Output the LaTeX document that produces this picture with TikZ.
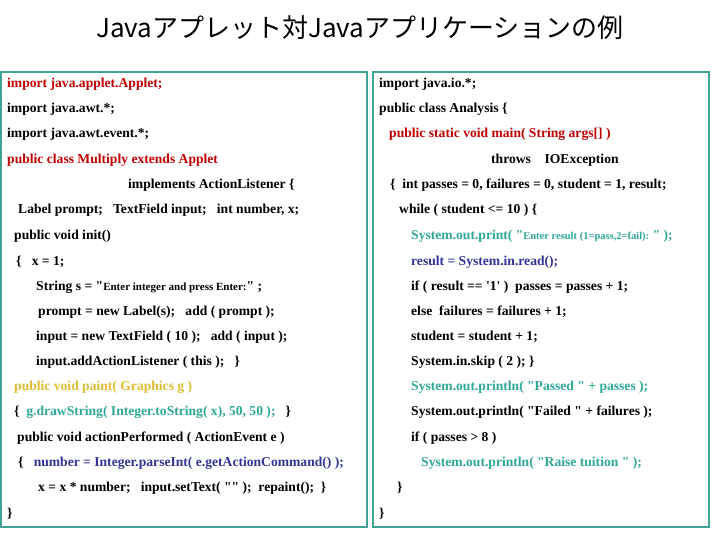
\documentclass[tikz,border=0pt]{standalone}
\usepackage{fontspec}
\setmainfont{Liberation Serif}[Ligatures=TeXOff]
\newfontfamily\cjk{Noto Sans CJK JP}
\definecolor{cred}{HTML}{C00000}
\definecolor{cteal}{HTML}{2EA898}
\definecolor{cyel}{HTML}{E0BC30}
\definecolor{cblue}{HTML}{333399}
\definecolor{cbord}{HTML}{3FA496}
\begin{document}
\begin{tikzpicture}[x=1pt,y=-1pt,
  code/.style={anchor=base west,inner sep=0pt,font=\fontsize{13.6}{15}\selectfont\bfseries},
  box/.style={draw=cbord,line width=1.2pt}]
\useasboundingbox (0,0) rectangle (720,540);
\node[font=\cjk\fontsize{26}{28}\selectfont,inner sep=0pt] (title) at (360,28) {Javaアプレット対Javaアプリケーションの例};
\draw[box] (1,72) rectangle (367,527);
\draw[box] (373,72) rectangle (709,527);
% left
\node[code,text=cred] (a1) at (7,88) {import java.applet.Applet;};
\node[code] (a2) at (7,113) {import java.awt.*;};
\node[code] (a3) at (7,138) {import java.awt.event.*;};
\node[code,text=cred] (a4) at (7,164) {public class Multiply extends Applet};
\node[code] (a5) at (128,189) {implements ActionListener \{};
\node[code] (a6) at (18,214) {Label prompt;\ \ \ TextField input;\ \ \ int number, x;};
\node[code] (a7) at (14,240) {public void init()};
\node[code] (a8) at (16,265) {\{\ \ \ x = 1;};
\node[code] (a9) at (36,290) {String s = "{\fontsize{11}{12}\selectfont Enter integer and press Enter:}" ;};
\node[code] (a10) at (38,315) {prompt = new Label(s);\ \ \ add ( prompt );};
\node[code] (a11) at (36,340) {input = new TextField ( 10 );\ \ \ add ( input );};
\node[code] (a12) at (36,365) {input.addActionListener ( this );\ \ \ \}};
\node[code,text=cyel] (a13) at (14,390) {public void paint( Graphics g )};
\node[code] (a14) at (14,415) {\{\ \ \textcolor{cteal}{g.drawString( Integer.toString( x), 50, 50 );}\ \ \ \}};
\node[code] (a15) at (17,441) {public void actionPerformed ( ActionEvent e )};
\node[code] (a16) at (18,466) {\{\ \ \ \textcolor{cblue}{number = Integer.parseInt( e.getActionCommand() );}};
\node[code] (a17) at (38,491) {x = x * number;\ \ \ input.setText( "" );\ \ repaint();\ \ \}};
\node[code] (a18) at (7,517) {\}};
% right
\node[code] (b1) at (379,88) {import java.io.*;};
\node[code] (b2) at (379,113) {public class Analysis \{};
\node[code,text=cred] (b3) at (389,138) {public static void main( String args[] )};
\node[code] (b4) at (491,164) {throws\ \ \ \ IOException};
\node[code] (b5) at (390,189) {\{\ \ int passes = 0, failures = 0, student = 1, result;};
\node[code] (b6) at (399,214) {while ( student <= 10 ) \{};
\node[code,text=cteal] (b7) at (411,240) {System.out.print( "{\fontsize{10.5}{12}\selectfont Enter result (1=pass,2=fail): }" );};
\node[code,text=cblue] (b8) at (411,265) {result = System.in.read();};
\node[code] (b9) at (411,290) {if ( result == '1' )\ \ passes = passes + 1;};
\node[code] (b10) at (411,315) {else\ \ failures = failures + 1;};
\node[code] (b11) at (411,340) {student = student + 1;};
\node[code] (b12) at (411,365) {System.in.skip ( 2 ); \}};
\node[code,text=cteal] (b13) at (411,390) {System.out.println( "Passed " + passes );};
\node[code] (b14) at (411,415) {System.out.println( "Failed " + failures );};
\node[code] (b15) at (411,441) {if ( passes > 8 )};
\node[code,text=cteal] (b16) at (421,466) {System.out.println( "Raise tuition " );};
\node[code] (b17) at (397,491) {\}};
\node[code] (b18) at (379,517) {\}};
\end{tikzpicture}
\end{document}
